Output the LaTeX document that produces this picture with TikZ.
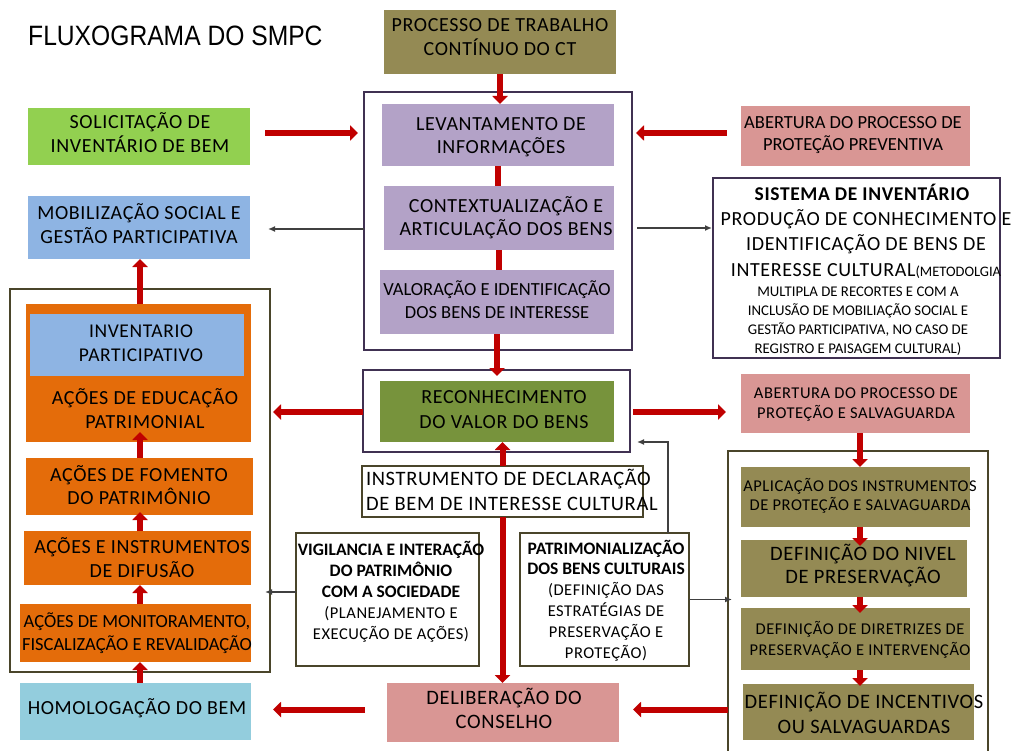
\documentclass[tikz,border=0pt]{standalone}
\usepackage{graphicx}
\usepackage{fontspec}
\setmainfont{Carlito}[LetterSpace=3.2]
\newfontfamily\tight{Carlito}
\newfontfamily\arialf{Liberation Sans}
\usetikzlibrary{arrows.meta,fit}
\definecolor{olv}{HTML}{948A54}
\definecolor{lil}{HTML}{B3A2C7}
\definecolor{pnk}{HTML}{D99694}
\definecolor{lgr}{HTML}{92D050}
\definecolor{blu}{HTML}{8EB4E3}
\definecolor{org}{HTML}{E46C0A}
\definecolor{dgr}{HTML}{77933C}
\definecolor{lbl}{HTML}{93CDDD}
\definecolor{arr}{HTML}{C00000}
\definecolor{fpur}{HTML}{403152}
\definecolor{folv}{HTML}{4A452A}
\definecolor{garr}{HTML}{404040}
\newcommand\fsz[2]{\fontsize{#1}{#2}\selectfont}
\newcommand\ctab[1]{\begin{tabular}{@{}c@{}}#1\end{tabular}}
\newcommand\ltab[1]{\begin{tabular}{@{}l@{}}#1\end{tabular}}
\newcommand\bldt{\bfseries\tight\fsz{17.5}{21}}
\begin{document}
\begin{tikzpicture}[x=1pt,y=-1pt,
  box/.style={rectangle, inner sep=0pt, outer sep=0pt, draw=none},
  pfrm/.style={rectangle, inner sep=0pt, outer sep=0pt, draw=fpur, line width=2.5pt},
  ofrm/.style={rectangle, inner sep=0pt, outer sep=0pt, draw=folv, line width=2.5pt},
  txt/.style={inner sep=0pt, outer sep=0pt, text=black, font=\fsz{20}{24}},
  redarr/.style={draw=arr, line width=6pt, -{Triangle[length=8pt,width=15pt]}},
  redbar/.style={draw=arr, line width=6pt},
  grayarr/.style={draw=garr, line width=1.5pt, -{Latex[length=7pt,width=6pt]}},
]
\fill[white] (0,0) rectangle (1016,751);
\useasboundingbox (0,0) rectangle (1016,751);

% frames
\node[pfrm, fit={(364,92)(632,350)}] (topframe) {};
\node[pfrm, fill=white, fit={(713,178)(1000,358)}] (sist) {};
\node[ofrm, fit={(10,289)(270,672)}] (leftframe) {};
\node[pfrm, fit={(363,370)(630,452)}] (recframe) {};
\node[box, fit={(728,451)(988,751)}] (rframe) {};
\draw[folv, line width=2.5pt] (rframe.south west) -- (rframe.north west) -- (rframe.north east) -- (rframe.south east);

% boxes
\node[box, fill=olv, fit={(384,10)(616,74)}] (proc) {};
\node[box, fill=lil, fit={(382,104)(614,166)}] (lev) {};
\node[box, fill=lil, fit={(384,186)(614,250)}] (ctx) {};
\node[box, fill=lil, fit={(380,270)(614,334)}] (val) {};
\node[box, fill=lgr, fit={(28,108)(250,165)}] (solic) {};
\node[box, fill=pnk, fit={(741,106)(970,166)}] (prevent) {};
\node[box, fill=blu, fit={(28,196)(250,259)}] (mobil) {};
\node[box, fill=org, fit={(26,304)(251,442)}] (edu) {};
\node[box, fill=blu, fit={(30,314)(244,376)}] (inv) {};
\node[box, fill=org, fit={(26,458)(253,515)}] (fom) {};
\node[box, fill=org, fit={(24,531)(251,585)}] (dif) {};
\node[box, fill=org, fit={(20,604)(251,662)}] (mon) {};
\node[box, fill=lbl, fit={(20,683)(251,740)}] (homol) {};
\node[box, fill=dgr, fit={(380,381)(614,442)}] (recon) {};
\node[box, fill=pnk, fit={(741,374)(970,433)}] (salv) {};
\node[box, fill=olv, fit={(741,467)(970,527)}] (apl) {};
\node[box, fill=olv, fit={(741,540)(967,597)}] (niv) {};
\node[box, fill=olv, fit={(741,608)(970,670)}] (dir) {};
\node[box, fill=olv, fit={(743,684)(974,740)}] (inc) {};
\node[box, fill=pnk, fit={(387,683)(619,742)}] (delib) {};
\node[ofrm, fill=white, fit={(362,466)(643,517)}] (instr) {};
\node[ofrm, fill=white, fit={(296,533)(479,666)}] (vig) {};
\node[ofrm, fill=white, fit={(520,533)(689,666)}] (pat) {};

\coordinate (lc) at (140,0);
\coordinate (rc) at (860,0);

% red connectors
\draw[redarr] (proc.south) -- (proc.south |- lev.north);
\draw[redbar] (lev.south) -- (lev.south |- ctx.north);
\draw[redbar] (ctx.south) -- (ctx.south |- val.north);
\draw[redarr, shorten >=5pt] (val.south) -- (val.south |- recon.north);
\draw[redarr, shorten <=15pt, shorten >=6pt] ([yshift=3.5pt]solic.east) -- ([yshift=3.5pt]solic.east -| topframe.west);
\draw[redarr, shorten <=14pt, shorten >=4pt] ([yshift=3pt]prevent.west) -- ([yshift=3pt]prevent.west -| topframe.east);
\draw[redarr] (lc |- edu.north) -- (lc |- mobil.south);
\draw[redarr, shorten >=-10pt] (lc |- fom.north) -- (lc |- edu.south);
\draw[redarr, shorten >=-3pt] (lc |- dif.north) -- (lc |- fom.south);
\draw[redarr] (lc |- mon.north) -- (lc |- dif.south);
\draw[redarr] (lc |- homol.north) -- (lc |- mon.south);
\draw[redarr, shorten >=3pt] ([yshift=-1pt]recframe.west) -- ([yshift=-1pt]recframe.west -| leftframe.east);
\draw[redarr, shorten <=3pt, shorten >=15pt] ([yshift=-1pt]recframe.east) -- ([yshift=-1pt]recframe.east -| salv.west);
\draw[redarr] (instr.north) -- (instr.north |- recon.south);
\draw[redarr] (instr.south) -- (instr.south |- delib.north);
\draw[redarr, shorten <=22pt, shorten >=22pt] ([yshift=3pt]delib.west) -- ([yshift=3pt]delib.west -| homol.east);
\draw[redarr, shorten >=14pt] ([yshift=3pt]rframe.west |- delib.east) -- ([yshift=3pt]delib.east);
\draw[redarr] (rc |- salv.south) -- (rc |- apl.north);
\draw[redarr, shorten >=-6pt] (rc |- apl.south) -- (rc |- niv.north);
\draw[redarr, shorten >=-5pt] (rc |- niv.south) -- (rc |- dir.north);
\draw[redarr, shorten >=-2pt] (rc |- dir.south) -- (rc |- inc.north);

% gray connectors
\draw[grayarr, shorten >=18pt] ([yshift=-1.5pt]topframe.west |- mobil.east) -- ([yshift=-1.5pt]mobil.east);
\draw[grayarr, shorten <=5pt, shorten >=1pt] ([yshift=-0.5pt]topframe.east |- mobil.east) -- ([yshift=-0.5pt]topframe.east |- mobil.east -| sist.west);
\draw[grayarr, shorten >=-5pt] ([yshift=7.5pt]vig.west) -- ([yshift=7.5pt]vig.west -| leftframe.east);
\draw[grayarr] ([xshift=-21pt]pat.north east) |- ([xshift=7pt,yshift=10pt]recframe.south east);
\draw[grayarr, shorten >=-4pt] (pat.east) -- (pat.east -| rframe.west);

% texts
\node[anchor=west, inner sep=0pt] (title) at (28,36) {\arialf\fontsize{28}{32}\selectfont\scalebox{0.88}[1]{FLUXOGRAMA DO SMPC}};
\node[txt, font=\fsz{20}{22}] (proct) at (500,39) {\ctab{PROCESSO DE TRABALHO\\CONTÍNUO DO CT}};
\node[txt, font=\fsz{20}{23}] (levt) at (501,137) {\ctab{LEVANTAMENTO DE\\INFORMAÇÕES}};
\node[txt, font=\fsz{20}{23}] (ctxt) at (506,219.5) {\ctab{CONTEXTUALIZAÇÃO E\\ARTICULAÇÃO DOS BENS}};
\node[txt, font=\tight\fsz{18.5}{23}] (valt) at (497,302) {\ctab{VALORAÇÃO E IDENTIFICAÇÃO\\DOS BENS DE INTERESSE}};
\node[txt] (solict) at (140,136) {\ctab{SOLICITAÇÃO DE\\INVENTÁRIO DE BEM}};
\node[txt] (mobilt) at (139,227) {\ctab{MOBILIZAÇÃO SOCIAL E\\GESTÃO PARTICIPATIVA}};
\node[txt, font=\tight\fsz{18.5}{22}] (prevt) at (853,135) {\ctab{ABERTURA DO PROCESSO DE\\PROTEÇÃO PREVENTIVA}};
\node[txt, font=\bfseries\fsz{19.5}{24}] (sista) at (862,196) {\ctab{SISTEMA DE INVENTÁRIO}};
\node[txt, font=\fsz{20}{25.5}] (sistb) at (866,245.5) {\ctab{PRODUÇÃO DE CONHECIMENTO E\\IDENTIFICAÇÃO DE BENS DE\\INTERESSE CULTURAL{\tight\fsz{14.5}{19}(METODOLGIA}}};
\node[txt, font=\tight\fsz{14.8}{19}] (sistc) at (858,321.5) {\ctab{MULTIPLA DE RECORTES E COM A\\INCLUSÃO DE MOBILIAÇÃO SOCIAL E\\GESTÃO PARTICIPATIVA, NO CASO DE\\REGISTRO E PAISAGEM CULTURAL)}};
\node[txt, font=\fsz{19.5}{24}] (invt) at (141,345) {\ctab{INVENTARIO\\PARTICIPATIVO}};
\node[txt] (edut) at (145,412) {\ctab{AÇÕES DE EDUCAÇÃO\\PATRIMONIAL}};
\node[txt, font=\fsz{20}{23}] (fomt) at (139,488.5) {\ctab{AÇÕES DE FOMENTO\\DO PATRIMÔNIO}};
\node[txt] (dift) at (142,561) {\ctab{AÇÕES E INSTRUMENTOS\\DE DIFUSÃO}};
\node[txt, font=\tight\fsz{18.5}{23}] (mont) at (137,634.5) {\ctab{AÇÕES DE MONITORAMENTO,\\FISCALIZAÇÃO E REVALIDAÇÃO}};
\node[txt] (homt) at (137,710) {\ctab{HOMOLOGAÇÃO DO BEM}};
\node[txt, font=\fsz{20}{25}] (recont) at (504,410.5) {\ctab{RECONHECIMENTO\\DO VALOR DO BENS}};
\node[txt, font=\fsz{20.5}{25}, anchor=west] (instrt) at (366,492.5) {\ltab{INSTRUMENTO DE DECLARAÇÃO\\DE BEM DE INTERESSE CULTURAL}};
\node[txt, font=\fsz{16.5}{21}] (vigt) at (391,593) {\ctab{\bldt VIGILANCIA E INTERAÇÃO\\\bldt DO PATRIMÔNIO\\\bldt COM A SOCIEDADE\\(PLANEJAMENTO E\\EXECUÇÃO DE AÇÕES)}};
\node[txt, font=\fsz{16.5}{20.8}] (patt) at (606,602) {\ctab{\bldt PATRIMONIALIZAÇÃO\\\bldt DOS BENS CULTURAIS\\(DEFINIÇÃO DAS\\ESTRATÉGIAS DE\\PRESERVAÇÃO E\\PROTEÇÃO)}};
\node[txt, font=\fsz{20.5}{24}] (delibt) at (504,712) {\ctab{DELIBERAÇÃO DO\\CONSELHO}};
\node[txt, font=\fsz{16.5}{20}] (salvt) at (856,404) {\ctab{ABERTURA DO PROCESSO DE\\PROTEÇÃO E SALVAGUARDA}};
\node[txt, font=\fsz{16.5}{19}] (aplt) at (860,497.5) {\ctab{APLICAÇÃO DOS INSTRUMENTOS\\DE PROTEÇÃO E SALVAGUARDA}};
\node[txt, font=\fsz{20.5}{23}] (nivt) at (863,567.5) {\ctab{DEFINIÇÃO DO NIVEL\\DE PRESERVAÇÃO}};
\node[txt, font=\fsz{16.5}{21}] (dirt) at (860,640.5) {\ctab{DEFINIÇÃO DE DIRETRIZES DE\\PRESERVAÇÃO E INTERVENÇÃO}};
\node[txt, font=\fsz{20.5}{25}] (inct) at (864,715.5) {\ctab{DEFINIÇÃO DE INCENTIVOS\\OU SALVAGUARDAS}};
\end{tikzpicture}
\end{document}
